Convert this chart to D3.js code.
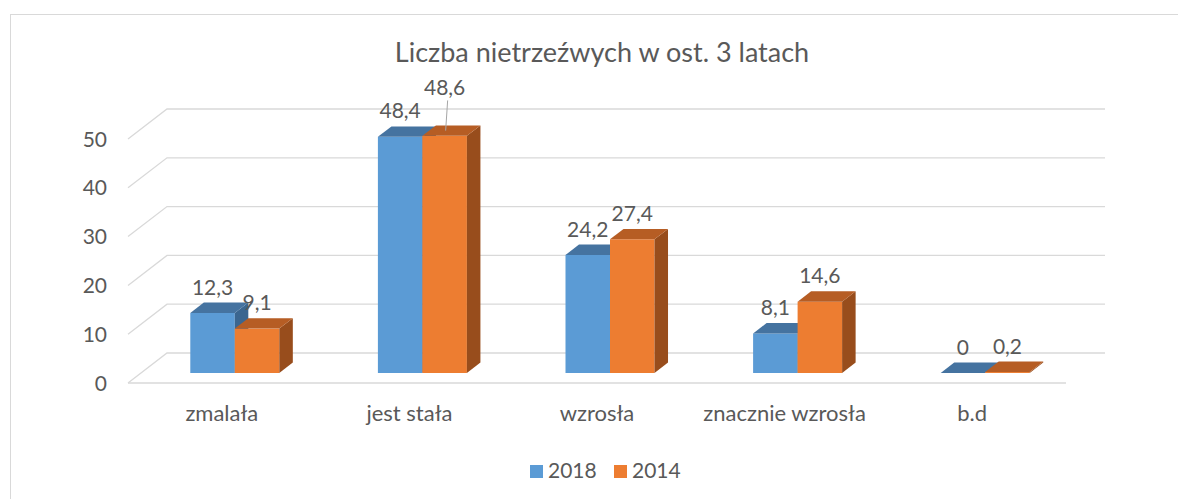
<!DOCTYPE html>
<html>
<head>
<meta charset="utf-8">
<script src="https://cdn.jsdelivr.net/npm/d3@7"></script>
<style>
  body { margin: 0; background: #fff; }
  text { font-family: Lato, "Open Sans", sans-serif; fill: #595959; }
</style>
</head>
<body>
<script>

const CATEGORIES = ['zmalała', 'jest stała', 'wzrosła', 'znacznie wzrosła', 'b.d'];
const SERIES = ['2018', '2014'];
const VALUES_2018 = [12.3, 48.4, 24.2, 8.1, 0];
const VALUES_2014 = [9.1, 48.6, 27.4, 14.6, 0.2];
const Y_TICKS = [0, 10, 20, 30, 40, 50];
const TITLE = 'Liczba nietrzeźwych w ost. 3 latach';

const COLORS = {
	'2018': { front: '#5B9BD5', top: '#4573A0', side: '#3B6690' },
	'2014': { front: '#ED7D31', top: '#B65D24', side: '#984D1C' }
};

const W = 1178, H = 499;
// depth vector of the floor (front -> back)
const DX = 39, DY = -30;
// bars sit between these depth fractions
const T1 = 1 / 3, T2 = 0.68;

const pl = d3.formatLocale({ decimal: ',', thousands: ' ', grouping: [3], currency: ['', ' zł'] });
const fmt = pl.format('.1~f');

const svg = d3.select('body').append('svg')
	.attr('width', W)
	.attr('height', H);

// chart border
svg.append('rect')
	.attr('x', 10.5).attr('y', 14.5)
	.attr('width', 1200).attr('height', 600)
	.style('fill', 'none')
	.style('stroke', '#D9D9D9');

const x = d3.scaleBand().domain(CATEGORIES).range([128, 1066]);
const xs = d3.scaleBand().domain(SERIES).range([-44.5, 44.5]);
const y = d3.scaleLinear().domain([0, 50]).range([383, 139]);

// gridlines (left slanted wall edge + back wall)
const grid = svg.append('g')
	.style('fill', 'none')
	.style('stroke', '#D9D9D9')
	.style('stroke-width', 1.3);

grid.selectAll('path.g')
	.data(Y_TICKS)
	.enter().append('path')
	.attr('class', 'g')
	.attr('d', d => {
		const x0 = x.range()[0], x1 = x.range()[1];
		return `M${x0},${y(d)} L${x0 + DX},${y(d) + DY} L${x1 + DX},${y(d) + DY}`;
	});

// floor front edge
grid.append('path')
	.attr('d', `M${x.range()[0]},${y(0)} L${x.range()[1]},${y(0)}`);

// y labels
svg.append('g').selectAll('text')
	.data(Y_TICKS)
	.enter().append('text')
	.attr('x', 107)
	.attr('y', d => y(d) + 7.5)
	.attr('text-anchor', 'end')
	.style('font-size', '21px')
	.text(d => d);

// bars
const data = [];
CATEGORIES.forEach((c, i) => {
	data.push({ cat: c, s: '2018', v: VALUES_2018[i] });
	data.push({ cat: c, s: '2014', v: VALUES_2014[i] });
});

const ddx = DX * (T2 - T1), ddy = DY * (T2 - T1);

function geom(d) {
	const x0 = x(d.cat) + x.bandwidth() / 2 + xs(d.s) + DX * T1;
	const x1 = x0 + xs.bandwidth();
	const yb = y(0) + DY * T1;
	const yt = y(d.v) + DY * T1;
	return { x0, x1, yb, yt };
}

const bars = svg.append('g').selectAll('g')
	.data(data)
	.enter().append('g');

bars.append('rect')
	.attr('x', d => geom(d).x0)
	.attr('y', d => geom(d).yt)
	.attr('width', xs.bandwidth())
	.attr('height', d => geom(d).yb - geom(d).yt)
	.style('fill', d => COLORS[d.s].front);

bars.append('path')
	.attr('d', d => {
		const g = geom(d);
		return `M${g.x1},${g.yt} L${g.x1 + ddx},${g.yt + ddy} L${g.x1 + ddx},${g.yb + ddy} L${g.x1},${g.yb}Z`;
	})
	.style('fill', d => COLORS[d.s].side);

bars.append('path')
	.attr('d', d => {
		const g = geom(d);
		return `M${g.x0},${g.yt} L${g.x1},${g.yt} L${g.x1 + ddx},${g.yt + ddy} L${g.x0 + ddx},${g.yt + ddy}Z`;
	})
	.style('fill', d => COLORS[d.s].top);

// data labels; one label was pushed up with a leader line
const LIFT = { 'jest stała|2014': 22 };

const labels = svg.append('g');
data.forEach(d => {
	const g = geom(d);
	const cx = (g.x0 + g.x1) / 2;
	const base = g.yt + ddy - 8;
	const lift = LIFT[d.cat + '|' + d.s] || 0;
	if (lift) {
		labels.append('line')
			.attr('x1', cx + 3).attr('y1', base - lift + 5)
			.attr('x2', cx + 1).attr('y2', g.yt + ddy / 2)
			.style('stroke', '#A6A6A6')
			.style('stroke-width', 1);
	}
	labels.append('text')
		.attr('x', cx)
		.attr('y', base - lift)
		.attr('text-anchor', 'middle')
		.style('font-size', '21px')
		.text(fmt(d.v));
});

// x labels
svg.append('g').selectAll('text')
	.data(CATEGORIES)
	.enter().append('text')
	.attr('x', d => x(d) + x.bandwidth() / 2)
	.attr('y', 421)
	.attr('text-anchor', 'middle')
	.style('font-size', '22px')
	.text(d => d);

// title
svg.append('text')
	.attr('x', 602)
	.attr('y', 62)
	.attr('text-anchor', 'middle')
	.style('font-size', '27px')
	.text(TITLE);

// legend
const legendX = { '2018': 530, '2014': 614 };
const legend = svg.append('g').selectAll('g')
	.data(SERIES)
	.enter().append('g')
	.attr('transform', d => `translate(${legendX[d]},465)`);

legend.append('rect')
	.attr('width', 13).attr('height', 13)
	.style('fill', d => COLORS[d].front);

legend.append('text')
	.attr('x', 18)
	.attr('y', 13)
	.style('font-size', '21px')
	.text(d => d);

</script>
</body>
</html>
